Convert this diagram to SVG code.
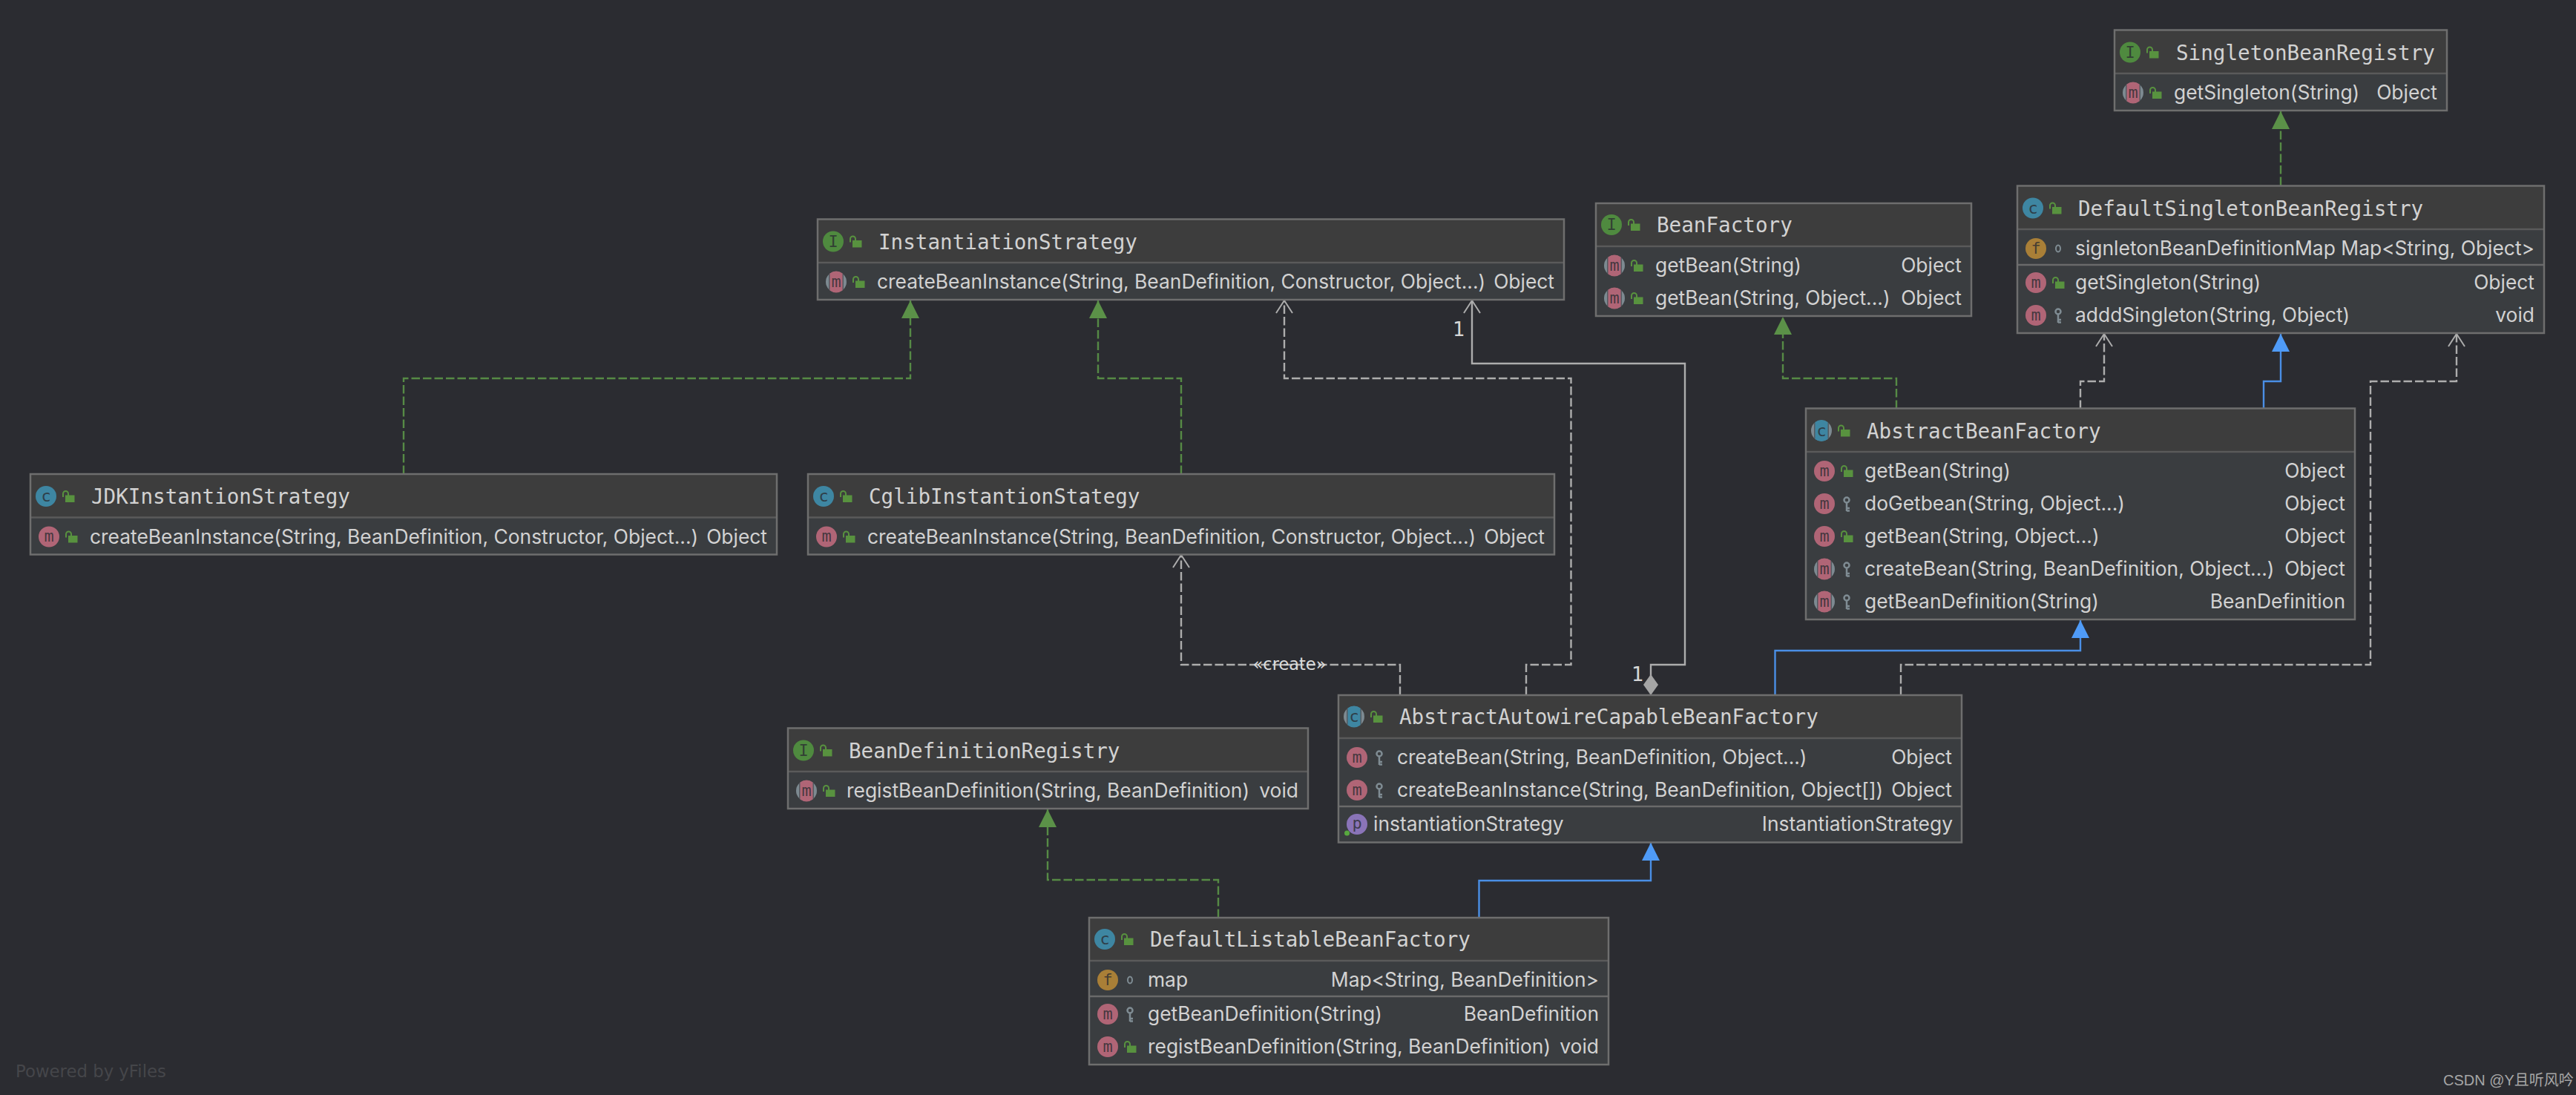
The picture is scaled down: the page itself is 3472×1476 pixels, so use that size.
<svg xmlns="http://www.w3.org/2000/svg" width="3472" height="1476" viewBox="0 0 3472 1476">
<style>
.h{fill:#3d3d3d}.b{fill:#3a3d40}.o{fill:none;stroke:#6e6e6e;stroke-width:2.5}.s{stroke:#5a5a5a;stroke-width:2.5}.s2{stroke:#6a6a6a;stroke-width:2.5}
.t{font:27.6px "DejaVu Sans Mono",monospace;fill:#d2d2d2}
.r{font:26.4px Inter,"Liberation Sans",sans-serif;fill:#d2d2d2}
.e{font:26.4px Inter,"Liberation Sans",sans-serif;fill:#d2d2d2;text-anchor:end}
.l{font:22px "DejaVu Sans Mono",monospace;fill:#2b2c31;fill-opacity:.8;text-anchor:middle}
.c{fill:none;stroke-width:2.4}
.gd{stroke:#568a45;stroke-dasharray:11.500 4;marker-end:url(#tg)}
.wd{stroke:#adadad;stroke-dasharray:11.500 4;marker-end:url(#oa)}
.bl{stroke:#4a8fe6;marker-end:url(#tb)}
.ws{stroke:#adadad;marker-end:url(#oa);marker-start:url(#dm)}
.lb{font:22.5px "DejaVu Sans",sans-serif;fill:#dcdcdc}
.n{font:27px "DejaVu Sans Mono",monospace;fill:#d6d6d6}
</style>
<defs>
<marker id="tg" markerUnits="userSpaceOnUse" markerWidth="24" markerHeight="24" refX="24" refY="12" orient="auto" overflow="visible"><path d="M0,0L24,12L0,24Z" fill="#5b9148"/></marker>
<marker id="tb" markerUnits="userSpaceOnUse" markerWidth="24" markerHeight="24" refX="24" refY="12" orient="auto" overflow="visible"><path d="M0,0L24,12L0,24Z" fill="#4f9bf7"/></marker>
<marker id="oa" markerUnits="userSpaceOnUse" markerWidth="18" markerHeight="22" refX="17" refY="11" orient="auto" overflow="visible"><path d="M0,0L17,11L0,22" fill="none" stroke="#adadad" stroke-width="2"/></marker>
<marker id="dm" markerUnits="userSpaceOnUse" markerWidth="28" markerHeight="20" refX="0" refY="10" orient="auto" overflow="visible"><path d="M0,10L14,0L28,10L14,20Z" fill="#a5a5a5"/></marker>
<g id="lock"><rect x="-4" y="-1.500" width="12.500" height="9.500" fill="#58923f"/><path d="M-7,1V-3.500A3.500,3.500 0 0 1 0,-3.500V-1" fill="none" stroke="#58923f" stroke-width="2"/></g>
<g id="key"><circle cy="-5" r="3.500" fill="none" stroke="#7f8c93" stroke-width="2.500"/><path d="M0,-1V10M0,6H4M0,9.500H4" fill="none" stroke="#7f8c93" stroke-width="2.500"/></g>
<ellipse id="ring" rx="3" ry="4.500" fill="none" stroke="#7f8c93" stroke-width="2"/>
<circle id="ci" r="14" fill="#4f8a3f"/>
<circle id="cc" r="14" fill="#3e86a2"/>
<circle id="cm" r="14" fill="#b06576"/>
<circle id="cf" r="14" fill="#a97f37"/>
<circle id="cp" r="14" fill="#8a74b8"/>
<g id="am"><circle r="14" fill="#7d8a91"/><path d="M-10,-9.800A14,14 0 0 1 10,-9.800V9.800A14,14 0 0 1 -10,9.800Z" fill="#2b2c31" opacity=".5"/><path d="M-8.500,-11.500A14,14 0 0 1 8.500,-11.500V11.500A14,14 0 0 1 -8.500,11.500Z" fill="#b06576"/></g>
<g id="ac"><circle r="14" fill="#7d8a91"/><path d="M-10,-9.800A14,14 0 0 1 10,-9.800V9.800A14,14 0 0 1 -10,9.800Z" fill="#2b2c31" opacity=".5"/><path d="M-8.500,-11.500A14,14 0 0 1 8.500,-11.500V11.500A14,14 0 0 1 -8.500,11.500Z" fill="#3e86a2"/></g>
</defs>
<rect width="3472" height="1476" fill="#2b2c31"/>
<g id="connectors" class="c">
<path class="gd" d="M3074,250V150"/>
<path class="gd" d="M544,639V510H1227V405"/>
<path class="gd" d="M1592,639V510H1480V405"/>
<path class="gd" d="M2556,551V510H2403V427"/>
<path class="gd" d="M1642,1237V1186H1412V1091"/>
<path class="wd" d="M2804,551V514H2836V450"/>
<path class="bl" d="M3051,551V514H3074V450"/>
<path class="wd" d="M2562,937V896H3195V514H3311V450"/>
<path class="bl" d="M2392.500,937V877H2804V836"/>
<path class="wd" d="M2057,937V896H2117.500V510H1731V405"/>
<path class="wd" d="M1887,937V896H1592V748"/>
<path class="ws" d="M2225,937V896H2271V490H1984V405"/>
<path class="bl" d="M1993.500,1237V1187H2225V1136"/>
<text class="lb" x="1738" y="903" text-anchor="middle" stroke="none">«create»</text>
<text class="n" x="1966" y="453" text-anchor="middle" stroke="none">1</text>
<text class="n" x="2207" y="918" text-anchor="middle" stroke="none">1</text>
</g>
<g id="SingletonBeanRegistry" transform="translate(2850,40.500)">
<rect class="b" width="448" height="108.500"/><rect class="h" width="448" height="58.500"/><path class="s" d="M0,58.500H448"/><rect class="o" width="448" height="108.500"/>
<use href="#ci" x="21" y="30"/><text class="l" x="21" y="37">I</text><use href="#lock" x="51" y="30"/><text class="t" x="83" y="40">SingletonBeanRegistry</text>
<use href="#am" x="25" y="84.500"/><text class="l" x="25" y="91">m</text><use href="#lock" x="55" y="84.500"/><text class="r" x="80" y="93.500">getSingleton(String)</text><text class="e" x="435" y="93.500">Object</text>
</g>
<g id="DefaultSingletonBeanRegistry" transform="translate(2719,250.500)">
<rect class="b" width="710" height="198.500"/><rect class="h" width="710" height="58.500"/><path class="s" d="M0,58.500H710"/><path class="s2" d="M0,106.500H710"/><rect class="o" width="710" height="198.500"/>
<use href="#cc" x="21" y="30"/><text class="l" x="21" y="37">c</text><use href="#lock" x="51" y="30"/><text class="t" x="82" y="40">DefaultSingletonBeanRegistry</text>
<use href="#cf" x="25" y="84.500"/><text class="l" x="25" y="91">f</text><use href="#ring" x="55" y="84.500"/><text class="r" x="78" y="93.500">signletonBeanDefinitionMap</text><text class="e" x="697" y="93.500">Map&lt;String, Object&gt;</text>
<use href="#cm" x="25" y="130.500"/><text class="l" x="25" y="137">m</text><use href="#lock" x="55" y="130.500"/><text class="r" x="78" y="139.500">getSingleton(String)</text><text class="e" x="697" y="139.500">Object</text>
<use href="#cm" x="25" y="174.500"/><text class="l" x="25" y="181">m</text><use href="#key" x="55" y="174.500"/><text class="r" x="78" y="183.500">adddSingleton(String, Object)</text><text class="e" x="697" y="183.500">void</text>
</g>
<g id="BeanFactory" transform="translate(2151,274)">
<rect class="b" width="506" height="152"/><rect class="h" width="506" height="58"/><path class="s" d="M0,58H506"/><rect class="o" width="506" height="152"/>
<use href="#ci" x="21" y="29"/><text class="l" x="21" y="36">I</text><use href="#lock" x="51" y="29"/><text class="t" x="82" y="39">BeanFactory</text>
<use href="#am" x="25" y="84"/><text class="l" x="25" y="91">m</text><use href="#lock" x="55" y="84"/><text class="r" x="80" y="93">getBean(String)</text><text class="e" x="493" y="93">Object</text>
<use href="#am" x="25" y="128"/><text class="l" x="25" y="135">m</text><use href="#lock" x="55" y="128"/><text class="r" x="80" y="137">getBean(String, Object...)</text><text class="e" x="493" y="137">Object</text>
</g>
<g id="InstantiationStrategy" transform="translate(1102,295.500)">
<rect class="b" width="1006" height="108.500"/><rect class="h" width="1006" height="58.500"/><path class="s" d="M0,58.500H1006"/><rect class="o" width="1006" height="108.500"/>
<use href="#ci" x="21" y="30"/><text class="l" x="21" y="37">I</text><use href="#lock" x="51" y="30"/><text class="t" x="82" y="40">InstantiationStrategy</text>
<use href="#am" x="25" y="84.500"/><text class="l" x="25" y="91">m</text><use href="#lock" x="55" y="84.500"/><text class="r" x="80" y="93.500">createBeanInstance(String, BeanDefinition, Constructor, Object...)</text><text class="e" x="993" y="93.500">Object</text>
</g>
<g id="JDKInstantionStrategy" transform="translate(41,639)">
<rect class="b" width="1006" height="108.500"/><rect class="h" width="1006" height="58.500"/><path class="s" d="M0,58.500H1006"/><rect class="o" width="1006" height="108.500"/>
<use href="#cc" x="21" y="30"/><text class="l" x="21" y="37">c</text><use href="#lock" x="51" y="30"/><text class="t" x="82" y="40">JDKInstantionStrategy</text>
<use href="#cm" x="25" y="84.500"/><text class="l" x="25" y="91">m</text><use href="#lock" x="55" y="84.500"/><text class="r" x="80" y="93.500">createBeanInstance(String, BeanDefinition, Constructor, Object...)</text><text class="e" x="993" y="93.500">Object</text>
</g>
<g id="CglibInstantionStategy" transform="translate(1089,639)">
<rect class="b" width="1006" height="108.500"/><rect class="h" width="1006" height="58.500"/><path class="s" d="M0,58.500H1006"/><rect class="o" width="1006" height="108.500"/>
<use href="#cc" x="21" y="30"/><text class="l" x="21" y="37">c</text><use href="#lock" x="51" y="30"/><text class="t" x="82" y="40">CglibInstantionStategy</text>
<use href="#cm" x="25" y="84.500"/><text class="l" x="25" y="91">m</text><use href="#lock" x="55" y="84.500"/><text class="r" x="80" y="93.500">createBeanInstance(String, BeanDefinition, Constructor, Object...)</text><text class="e" x="993" y="93.500">Object</text>
</g>
<g id="AbstractBeanFactory" transform="translate(2434,550.500)">
<rect class="b" width="740" height="284.500"/><rect class="h" width="740" height="58.500"/><path class="s" d="M0,58.500H740"/><rect class="o" width="740" height="284.500"/>
<use href="#ac" x="21" y="30"/><text class="l" x="21" y="37">c</text><use href="#lock" x="51" y="30"/><text class="t" x="82" y="40">AbstractBeanFactory</text>
<use href="#cm" x="25" y="84.500"/><text class="l" x="25" y="91">m</text><use href="#lock" x="55" y="84.500"/><text class="r" x="79" y="93.500">getBean(String)</text><text class="e" x="727" y="93.500">Object</text>
<use href="#cm" x="25" y="128.500"/><text class="l" x="25" y="135">m</text><use href="#key" x="55" y="128.500"/><text class="r" x="79" y="137.500">doGetbean(String, Object...)</text><text class="e" x="727" y="137.500">Object</text>
<use href="#cm" x="25" y="172.500"/><text class="l" x="25" y="179">m</text><use href="#lock" x="55" y="172.500"/><text class="r" x="79" y="181.500">getBean(String, Object...)</text><text class="e" x="727" y="181.500">Object</text>
<use href="#am" x="25" y="216.500"/><text class="l" x="25" y="223">m</text><use href="#key" x="55" y="216.500"/><text class="r" x="79" y="225.500">createBean(String, BeanDefinition, Object...)</text><text class="e" x="727" y="225.500">Object</text>
<use href="#am" x="25" y="260.500"/><text class="l" x="25" y="267">m</text><use href="#key" x="55" y="260.500"/><text class="r" x="79" y="269.500">getBeanDefinition(String)</text><text class="e" x="727" y="269.500">BeanDefinition</text>
</g>
<g id="AbstractAutowireCapableBeanFactory" transform="translate(1804,937)">
<rect class="b" width="840" height="198.500"/><rect class="h" width="840" height="58"/><path class="s" d="M0,58H840"/><path class="s2" d="M0,150H840"/><rect class="o" width="840" height="198.500"/>
<use href="#ac" x="21" y="29"/><text class="l" x="21" y="36">c</text><use href="#lock" x="51" y="29"/><text class="t" x="82" y="39">AbstractAutowireCapableBeanFactory</text>
<use href="#cm" x="25" y="84"/><text class="l" x="25" y="91">m</text><use href="#key" x="55" y="84"/><text class="r" x="79" y="93">createBean(String, BeanDefinition, Object...)</text><text class="e" x="827" y="93">Object</text>
<use href="#cm" x="25" y="128"/><text class="l" x="25" y="135">m</text><use href="#key" x="55" y="128"/><text class="r" x="79" y="137">createBeanInstance(String, BeanDefinition, Object[])</text><text class="e" x="827" y="137">Object</text>
<use href="#cp" x="25" y="174"/><text class="l" x="25" y="180">p</text><circle cx="11.500" cy="186" r="3.500" fill="#58a83f"/><text class="r" x="47" y="183">instantiationStrategy</text><text class="e" x="828" y="183">InstantiationStrategy</text>
</g>
<g id="BeanDefinitionRegistry" transform="translate(1062,981.500)">
<rect class="b" width="701" height="108.500"/><rect class="h" width="701" height="58.500"/><path class="s" d="M0,58.500H701"/><rect class="o" width="701" height="108.500"/>
<use href="#ci" x="21" y="30"/><text class="l" x="21" y="37">I</text><use href="#lock" x="51" y="30"/><text class="t" x="82" y="40">BeanDefinitionRegistry</text>
<use href="#am" x="25" y="84.500"/><text class="l" x="25" y="91">m</text><use href="#lock" x="55" y="84.500"/><text class="r" x="79" y="93.500">registBeanDefinition(String, BeanDefinition)</text><text class="e" x="688" y="93.500">void</text>
</g>
<g id="DefaultListableBeanFactory" transform="translate(1468,1237)">
<rect class="b" width="700" height="198"/><rect class="h" width="700" height="58"/><path class="s" d="M0,58H700"/><path class="s2" d="M0,106H700"/><rect class="o" width="700" height="198"/>
<use href="#cc" x="21" y="29"/><text class="l" x="21" y="36">c</text><use href="#lock" x="51" y="29"/><text class="t" x="82" y="39">DefaultListableBeanFactory</text>
<use href="#cf" x="25" y="84"/><text class="l" x="25" y="91">f</text><use href="#ring" x="55" y="84"/><text class="r" x="79" y="93">map</text><text class="e" x="687" y="93">Map&lt;String, BeanDefinition&gt;</text>
<use href="#cm" x="25" y="130"/><text class="l" x="25" y="137">m</text><use href="#key" x="55" y="130"/><text class="r" x="79" y="139">getBeanDefinition(String)</text><text class="e" x="687" y="139">BeanDefinition</text>
<use href="#cm" x="25" y="174"/><text class="l" x="25" y="181">m</text><use href="#lock" x="55" y="174"/><text class="r" x="79" y="183">registBeanDefinition(String, BeanDefinition)</text><text class="e" x="687" y="183">void</text>
</g>
<text x="21" y="1452" style="font:22.8px 'DejaVu Sans',sans-serif;fill:#45464a">Powered by yFiles</text>
<text x="3293" y="1463" style="font:20px 'Liberation Sans','Noto Sans CJK SC',sans-serif;fill:#a6a6a6">CSDN @Y且听风吟</text>
</svg>
